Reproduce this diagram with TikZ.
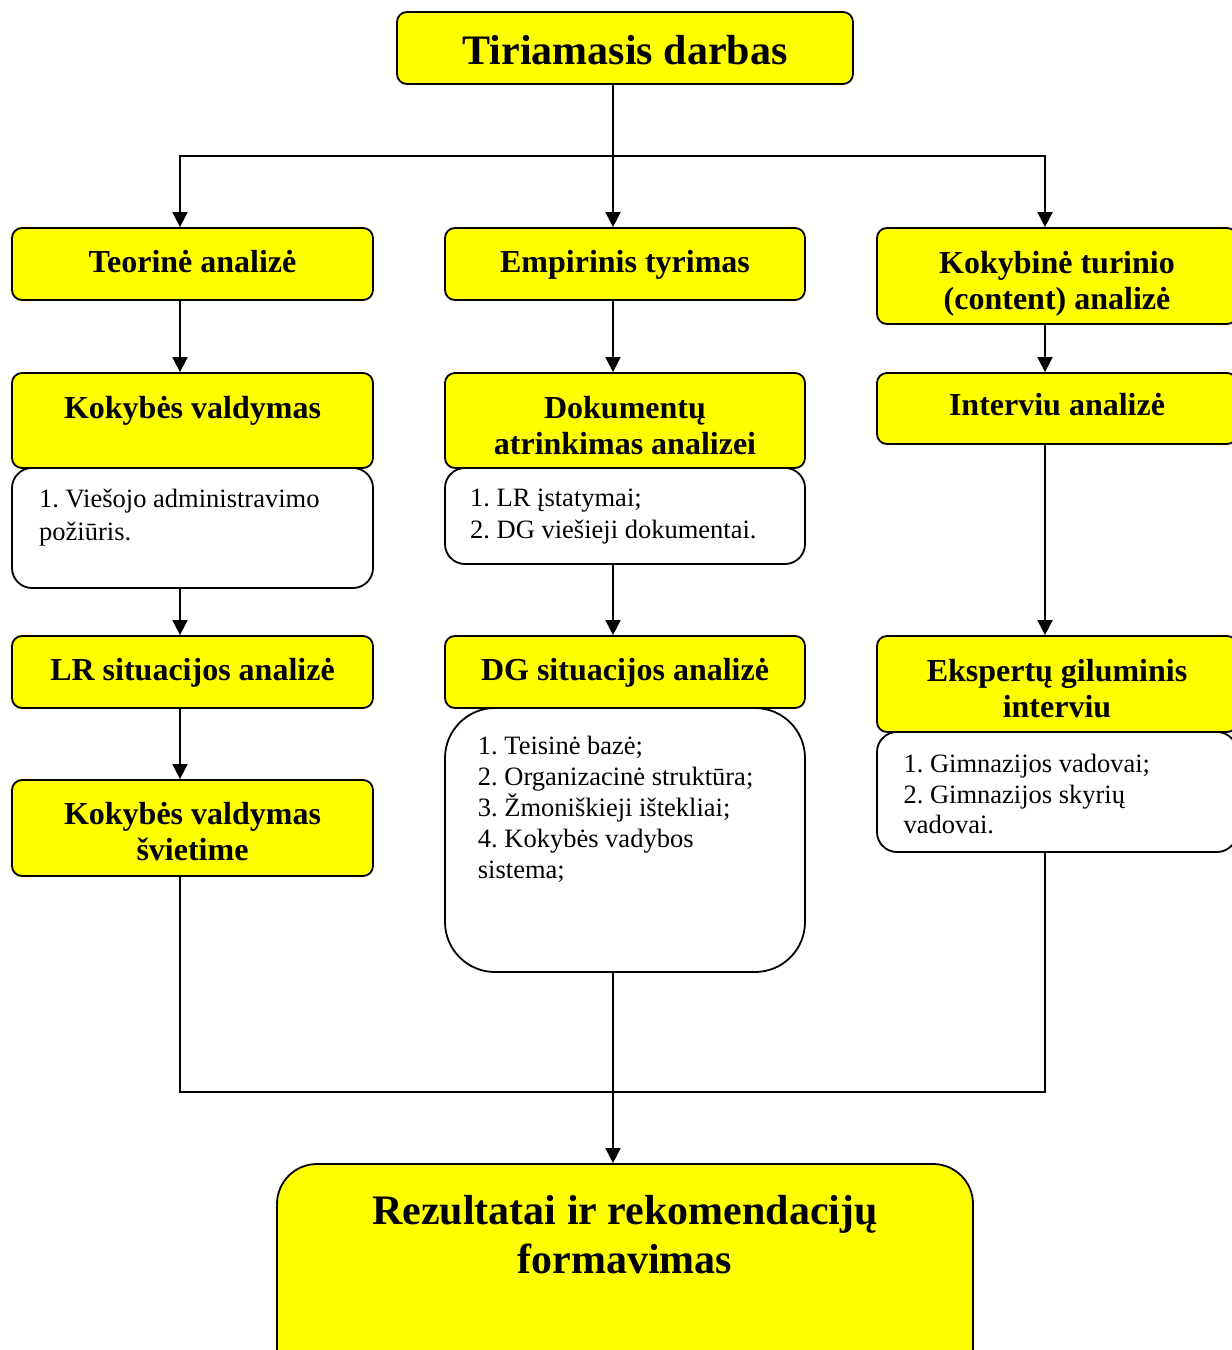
\documentclass[tikz,border=0pt]{standalone}
\usepackage{fontspec}
\setmainfont{Liberation Serif}
\usetikzlibrary{arrows.meta}
\definecolor{boxyellow}{RGB}{255,255,0}
\frenchspacing

\begin{document}
\begin{tikzpicture}[x=1pt,y=-1pt,
  ybox/.style={draw=black, line width=1.8pt, fill=boxyellow, rounded corners=10pt, inner sep=0pt},
  wbox/.style={draw=black, line width=1.8pt, fill=white, rounded corners=20pt, inner sep=0pt},
  head/.style={font=\bfseries\fontsize{32}{36}\selectfont, align=center, inner sep=0pt},
  items/.style={align=left, inner sep=0pt, anchor=north west},
  conn/.style={line width=1.8pt},
  arr/.style={conn, -{Triangle[length=15pt,width=15pt]}}]

\useasboundingbox (0,0) rectangle (1232,1350);
\clip (0,0) rectangle (1232,1350);

% ---- boxes ----
\node[ybox, minimum width=456pt, minimum height=72pt] (top) at (625,48) {};

\node[ybox, minimum width=361pt, minimum height=72pt] (teo) at (192.5,264) {};
\node[ybox, minimum width=360pt, minimum height=72pt] (emp) at (625,264) {};
\node[ybox, minimum width=360pt, minimum height=96pt] (kok) at (1057,276) {};

\node[wbox, minimum width=361pt, minimum height=120pt] (kvw) at (192.5,528) {};
\node[ybox, minimum width=361pt, minimum height=95pt] (kv) at (192.5,420.5) {};
\node[wbox, minimum width=360pt, minimum height=96pt] (dokw) at (625,516) {};
\node[ybox, minimum width=360pt, minimum height=95pt] (dok) at (625,420.5) {};
\node[ybox, minimum width=360pt, minimum height=71pt] (int) at (1057,408.5) {};

\node[ybox, minimum width=361pt, minimum height=72pt] (lr) at (192.5,672) {};
\node[wbox, rounded corners=50pt, minimum width=360pt, minimum height=264pt] (dgw) at (625,840) {};
\node[ybox, minimum width=360pt, minimum height=72pt] (dg) at (625,672) {};
\node[wbox, minimum width=360pt, minimum height=120pt] (eksw) at (1057,792) {};
\node[ybox, minimum width=360pt, minimum height=96pt] (eks) at (1057,684) {};

\node[ybox, minimum width=361pt, minimum height=96pt] (kvs) at (192.5,828) {};

\node[ybox, rounded corners=40pt, minimum width=696pt, minimum height=236pt] (rez) at (625,1282) {};

% ---- headings ----
\node[head, font=\bfseries\fontsize{42}{50}\selectfont, anchor=base] (ttop) at (625,64.3) {Tiriamasis darbas};
\node[head, anchor=base] (tteo) at (192.5,272) {Teorinė analizė};
\node[head, anchor=base] (temp) at (625,272) {Empirinis tyrimas};
\node[head, anchor=north] (tkok) at (1057,248.1) {\strut Kokybinė turinio\\(content) analizė};
\node[head, anchor=base] (tkv) at (192.5,418.5) {Kokybės valdymas};
\node[head, anchor=north] (tdok) at (625,392.8) {\strut Dokumentų\\atrinkimas analizei};
\node[head, anchor=base] (tint) at (1057,415) {Interviu analizė};
\node[head, anchor=base] (tlr) at (192.5,680) {LR situacijos analizė};
\node[head, anchor=base] (tdg) at (625,680) {DG situacijos analizė};
\node[head, anchor=north] (teks) at (1057,656.5) {\strut Ekspertų giluminis\\interviu};
\node[head, anchor=north] (tkvs) at (192.5,799.1) {\strut Kokybės valdymas\\švietime};
\node[head, font=\bfseries\fontsize{42}{49.5}\selectfont, anchor=north] (trez) at (625,1189.4)
  {\strut Rezultatai ir rekomendacijų\\formavimas};

% ---- item lists ----
\node[items, font=\fontsize{26.5}{33}\selectfont] (ikv) at (39,484.6)
  {\strut 1. Viešojo administravimo\\požiūris.};
\node[items, font=\fontsize{26.5}{32}\selectfont] (idok) at (470,483.6)
  {\strut 1. LR įstatymai;\\2. DG viešieji dokumentai.};
\node[items, font=\fontsize{26.5}{31}\selectfont] (idg) at (477.7,732.6)
  {\strut 1. Teisinė bazė;\\2. Organizacinė struktūra;\\3. Žmoniškieji ištekliai;\\4. Kokybės vadybos\\sistema;};
\node[items, font=\fontsize{26.5}{30.5}\selectfont] (ieks) at (903.3,751.3)
  {\strut 1. Gimnazijos vadovai;\\2. Gimnazijos skyrių\\vadovai.};

% ---- connectors ----
\coordinate (split) at (613,156);
\coordinate (merge) at (613,1092);
\draw[conn] ([xshift=-12pt]top.south) -- (split);
\draw[arr] (split) -| ([xshift=-12.5pt]teo.north);
\draw[arr] (split) -- ([xshift=-12pt]emp.north);
\draw[arr] (split) -| ([xshift=-12pt]kok.north);

\draw[arr] ([xshift=-12.5pt]teo.south) -- ([xshift=-12.5pt]kv.north);
\draw[arr] ([xshift=-12pt]emp.south) -- ([xshift=-12pt]dok.north);
\draw[arr] ([xshift=-12pt]kok.south) -- ([xshift=-12pt]int.north);

\draw[arr] ([xshift=-12.5pt]kvw.south) -- ([xshift=-12.5pt]lr.north);
\draw[arr] ([xshift=-12pt]dokw.south) -- ([xshift=-12pt]dg.north);
\draw[arr] ([xshift=-12pt]int.south) -- ([xshift=-12pt]eks.north);

\draw[arr] ([xshift=-12.5pt]lr.south) -- ([xshift=-12.5pt]kvs.north);

\draw[conn] ([xshift=-12.5pt]kvs.south) |- (merge) -| ([xshift=-12pt]eksw.south);
\draw[arr] ([xshift=-12pt]dgw.south) -- ([xshift=-12pt]rez.north);
\end{tikzpicture}
\end{document}
